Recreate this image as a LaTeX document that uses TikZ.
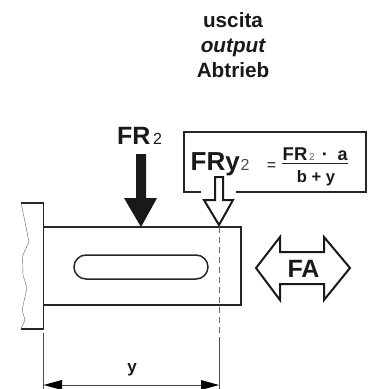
\documentclass[tikz,border=0pt]{standalone}
\usepackage{fontspec}
\setmainfont{Liberation Sans}
\tikzset{
  lbl/.style={inner sep=0pt,text=black!90,anchor=base},
  lblw/.style={inner sep=0pt,text=black!90,anchor=base west},
  outl/.style={draw=black!85,line width=1.5pt,line join=miter},
  hollow/.style={draw=black!90,line width=2pt,line join=miter,fill=white},
  fineline/.style={draw=black!70,line width=0.7pt}
}
\newcommand{\fsz}[1]{\fontsize{#1}{#1}\selectfont}
\begin{document}
\begin{tikzpicture}[x=1pt,y=-1pt]
\useasboundingbox (0,0) rectangle (371,389);
\node[lbl,font=\bfseries\fsz{20.7}] (t1) at (233,27) {uscita};
\node[lbl,font=\bfseries\itshape\fsz{20.7}] (t2) at (233,52) {output};
\node[lbl,font=\bfseries\fsz{20.7}] (t3) at (233,77) {Abtrieb};
% flange and shaft
\draw[outl] (21,203) -- (43.5,203) -- (43.5,329) -- (21,329);
\draw[draw=black!60,line width=0.4pt] (21,203) -- (25,222) -- (29,242) -- (22.5,256) -- (23,275) -- (27,288) -- (22,310) -- (25,320) -- (21,329);
\draw[outl] (43.5,227) rectangle (241,305);
\draw[outl,rounded corners=12pt] (74,255) rectangle (208,279);
% dimension
\draw[fineline,draw=black!60,dash pattern=on 6pt off 4pt] (219,227) -- (219,337);
\draw[fineline] (219,337) -- (219,389);
\draw[fineline] (43.5,333) -- (43.5,389);
\draw[line width=1pt,draw=black!75] (60,385) -- (203,385);
\fill[black] (43.5,385) -- (62,380) -- (62,390) -- cycle;
\fill[black] (219,385) -- (201,380) -- (201,390) -- cycle;
\node[lbl,font=\bfseries\fsz{17}] (y) at (132,372) {y};
% big arrow
\fill[black!90] (136,154) -- (146,154) -- (146,198) -- (157,198) -- (141,227) -- (124,198) -- (136,198) -- cycle;
\node[lblw,font=\bfseries\fsz{25}] (fr) at (117,144) {FR};
\node[lblw,font=\fsz{16}] (fr2) at (153,144) {2};
% box
\draw[outl] (201,192) -- (184,192) -- (184,132) -- (366,132) -- (366,192) -- (236,192);
\node[lblw,font=\bfseries\fsz{26}] (fry) at (190.5,170) {FRy};
\node[lblw,text=black!70,font=\fsz{16}] (fry2) at (240.5,170) {2};
\node[lbl,font=\fsz{16}] (eq) at (271.5,170) {=};
\node[lblw,font=\bfseries\fsz{18.5}] (num) at (282.5,160) {FR};
\node[lblw,text=black!60,font=\fsz{10}] (num2) at (309,160) {2};
\node[lbl,font=\bfseries\fsz{18.5}] (num3) at (325,160) {·};
\node[lblw,font=\bfseries\fsz{18}] (num4) at (337.5,160) {a};
\node[lbl,font=\bfseries\fsz{16.6}] (den) at (316,182) {b + y};
\draw[line width=1pt,draw=black!85] (282,163.5) -- (348,163.5);
% hollow arrow
\draw[hollow] (215,177) -- (223,177) -- (223,200) -- (233,200) -- (219,225) -- (204,200) -- (215,200) -- cycle;
% FA arrow
\draw[hollow] (256,268) -- (280,237) -- (280,252) -- (324,252) -- (324,237) -- (350,268) -- (324,300) -- (324,284) -- (280,284) -- (280,300) -- cycle;
\node[lbl,font=\bfseries\fsz{25}] (fa) at (303.5,277) {FA};
\end{tikzpicture}
\end{document}
